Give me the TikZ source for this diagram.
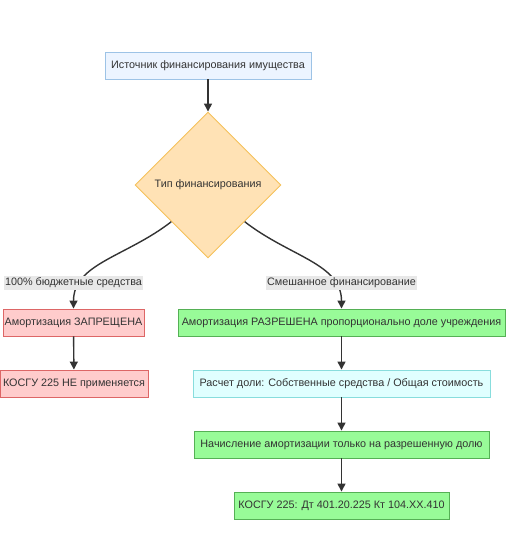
\documentclass[tikz,border=0pt]{standalone}
\usepackage{fontspec}
\setmainfont{Liberation Sans}
\usetikzlibrary{shapes.geometric,arrows.meta}
\definecolor{txt}{HTML}{333333}
\definecolor{srcfill}{HTML}{ECF4FF}
\definecolor{srcline}{HTML}{9DC3E6}
\definecolor{typefill}{HTML}{FFE2B5}
\definecolor{typeline}{HTML}{F5C15A}
\definecolor{redfill}{HTML}{FFCCCC}
\definecolor{redline}{HTML}{DD6666}
\definecolor{grnfill}{HTML}{98FB98}
\definecolor{grnline}{HTML}{55B055}
\definecolor{cyanfill}{HTML}{E0FFFF}
\definecolor{cyanline}{HTML}{88DDDD}
\definecolor{lblfill}{HTML}{E8E8E8}

\tikzstyle{box}=[rectangle,draw,line width=0.9pt,minimum height=27pt,inner sep=0pt,text=txt,font=\fontsize{10.8}{12}\selectfont]
\tikzstyle{src box}=[box,fill=srcfill,draw=srcline]
\tikzstyle{red box}=[box,fill=redfill,draw=redline]
\tikzstyle{green box}=[box,fill=grnfill,draw=grnline]
\tikzstyle{cyan box}=[box,fill=cyanfill,draw=cyanline]
\tikzstyle{choice}=[diamond,draw=typeline,fill=typefill,line width=0.9pt,minimum width=146pt,minimum height=146pt,inner sep=0pt,text=txt,font=\fontsize{10.8}{12}\selectfont]
\tikzstyle{flow edge}=[draw,line width=1.4pt,txt,-{Triangle[length=8pt,width=8pt]}]
\tikzstyle{edge label}=[fill=lblfill,text=txt,inner sep=1.5pt,font=\fontsize{10.8}{12}\selectfont]

\begin{document}
\begin{tikzpicture}[x=1pt,y=-1pt]
			\useasboundingbox (0,0) rectangle (526,537);
			\node[src box,minimum width=206pt] (src) at (208,65.5) {Источник финансирования имущества};
			\node[choice] (type) at (208,185) {Тип финансирования};
			\node[red box,minimum width=141pt] (ban) at (73.5,322.5) {Амортизация ЗАПРЕЩЕНА};
			\node[red box,minimum width=148pt] (nokosgu) at (74,383.5) {КОСГУ 225 НЕ применяется};
			\node[green box,minimum width=327pt] (share) at (341.5,322.5) {Амортизация РАЗРЕШЕНА пропорционально доле учреждения};
			\node[cyan box,minimum width=297pt] (calc) at (341.5,383.5) {Расчет доли: Собственные средства / Общая стоимость};
			\node[green box,minimum width=295pt] (accrue) at (341.5,444.5) {Начисление амортизации только на разрешенную долю};
			\node[green box,minimum width=215pt] (post) at (341.5,505.5) {КОСГУ 225: Дт 401.20.225 Кт 104.XX.410};
			% Straight edges
			\foreach \source/ \dest in {src/type, ban/nokosgu, share/calc, calc/accrue, accrue/post}
				\path[flow edge] (\source) to (\dest);
			% Curved edges out of the choice
			\path[flow edge] (type.south west) .. controls +(-45,35) and +(0,-45) .. (ban.north)
				node[edge label] at (73.5,283) {100\% бюджетные средства};
			\path[flow edge] (type.south east) .. controls +(45,35) and +(0,-45) .. (share.north)
				node[edge label] at (341.5,283) {Смешанное финансирование};
		\end{tikzpicture}
\end{document}
